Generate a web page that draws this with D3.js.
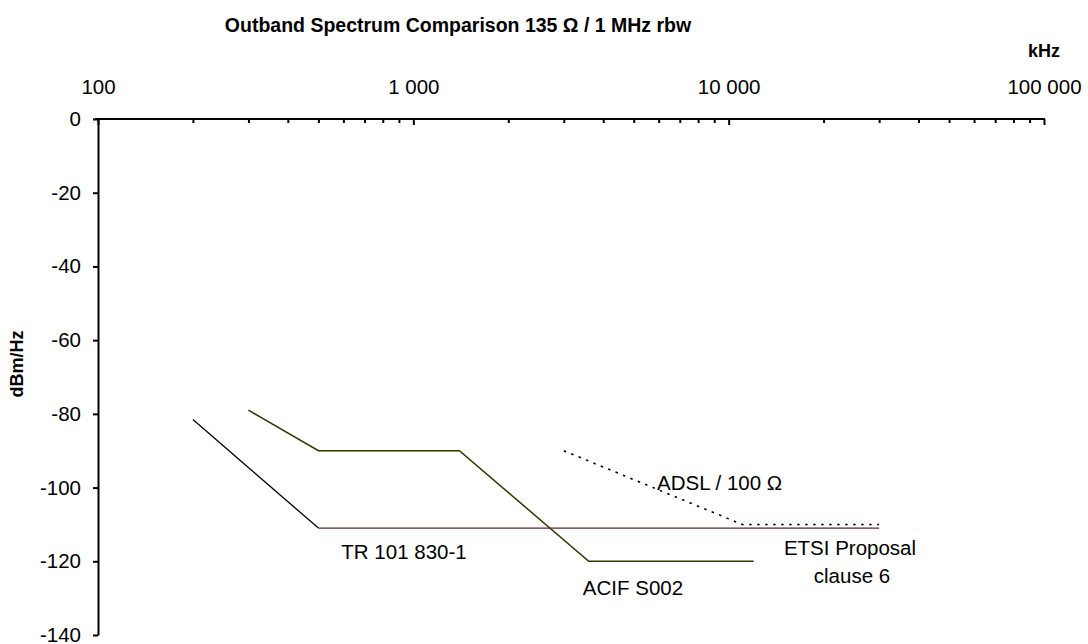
<!DOCTYPE html>
<html>
<head>
<meta charset="utf-8">
<script src="https://cdn.jsdelivr.net/npm/d3@7"></script>
<style>
  body { margin: 0; background: #fff; }
  svg { font-family: Arial, "Liberation Sans", sans-serif; }
</style>
</head>
<body>
<div id="chart"></div>
<script>
// Outband spectrum comparison

// x in kHz, y in dBm/Hz
const trPoints   = [[200, -81.5], [500, -111]];
const acifPoints = [[300, -79], [500, -90], [1400, -90], [3600, -120], [12000, -120]];
const etsiPoints = [[500, -111], [30000, -111]];
const adslPoints = [[3000, -90], [11040, -110], [30000, -110]];

const xMajorTicks = [100, 1000, 10000, 100000];
const xMajorLabels = ["100", "1 000", "10 000", "100 000"];
const yTicks = [0, -20, -40, -60, -80, -100, -120, -140];

const width = 1088;
const height = 644;

const svg = d3.select("#chart")
    .append("svg")
    .attr("width", width)
    .attr("height", height);

const x = d3.scaleLog().domain([100, 100000]).range([98, 1044]);
const y = d3.scaleLinear().domain([0, -140]).range([119, 635]);

// minor ticks 2..9 in each decade
const xMinorTicks = [];
[100, 1000, 10000].forEach(dec => {
    for (let k = 2; k <= 9; k++) xMinorTicks.push(dec * k);
});

// top axis (ticks point down into the plot)
svg.append("g")
    .attr("transform", `translate(0, ${y(0)})`)
    .call(d3.axisTop(x).tickValues(xMinorTicks).tickSize(-4).tickSizeOuter(0).tickFormat(""))
    .call(g => g.select(".domain").remove())
    .call(g => g.selectAll("line").attr("stroke", "#000").attr("stroke-width", 2));

svg.append("g")
    .attr("transform", `translate(0, ${y(0)})`)
    .call(d3.axisTop(x).tickValues(xMajorTicks).tickSize(-6).tickSizeOuter(0).tickPadding(25)
        .tickFormat((d, i) => xMajorLabels[i]))
    .call(g => g.select(".domain").attr("stroke", "#000").attr("stroke-width", 2)
        .attr("d", `M${x(100) - 3},0H${x(100000) + 1}`))
    .call(g => g.selectAll("line").attr("stroke", "#000").attr("stroke-width", 2))
    .call(g => g.selectAll("text").attr("font-size", "20.5px").attr("fill", "#000")
        .attr("font-family", "Arial, 'Liberation Sans', sans-serif"));

// left axis
svg.append("g")
    .attr("transform", `translate(${x(100)}, 0)`)
    .call(d3.axisLeft(y).tickValues(yTicks).tickSize(5).tickSizeOuter(0).tickPadding(12)
        .tickFormat(d => String(d)))
    .call(g => g.select(".domain").attr("stroke", "#000").attr("stroke-width", 2))
    .call(g => g.selectAll("line").attr("stroke", "#000").attr("stroke-width", 2))
    .call(g => g.selectAll("text").attr("font-size", "20.5px").attr("fill", "#000")
        .attr("font-family", "Arial, 'Liberation Sans', sans-serif"));

// series lines
const line = d3.line().x(d => x(d[0])).y(d => y(d[1]));

svg.append("path").datum(trPoints)
    .attr("d", line).attr("fill", "none")
    .attr("stroke", "#000").attr("stroke-width", 1.3);

svg.append("path").datum(acifPoints)
    .attr("d", line).attr("fill", "none")
    .attr("stroke", "#333300").attr("stroke-width", 1.5);

svg.append("path").datum(etsiPoints)
    .attr("d", line).attr("fill", "none")
    .attr("stroke", "#5a2a2a").attr("stroke-width", 1.4);

svg.append("path").datum(adslPoints)
    .attr("d", line).attr("fill", "none")
    .attr("stroke", "#000").attr("stroke-width", 1.6)
    .attr("stroke-dasharray", "2.5,5.5");

// titles
svg.append("text")
    .attr("x", 458).attr("y", 32)
    .attr("text-anchor", "middle")
    .attr("font-size", "19.5px").attr("font-weight", "bold")
    .text("Outband Spectrum Comparison 135 Ω / 1 MHz rbw");

svg.append("text")
    .attr("x", 1044).attr("y", 57)
    .attr("text-anchor", "middle")
    .attr("font-size", "18px").attr("font-weight", "bold")
    .text("kHz");

svg.append("text")
    .attr("transform", "translate(23, 364) rotate(-90)")
    .attr("text-anchor", "middle")
    .attr("font-size", "18px").attr("font-weight", "bold")
    .text("dBm/Hz");

// series labels
const labels = [
    { text: "ADSL / 100 Ω", x: 657, y: 490, anchor: "start" },
    { text: "TR 101 830-1", x: 404, y: 559, anchor: "middle" },
    { text: "ACIF S002", x: 633, y: 595, anchor: "middle" },
    { text: "ETSI Proposal", x: 850, y: 555, anchor: "middle" },
    { text: "clause 6", x: 852, y: 583, anchor: "middle" }
];

labels.forEach(l => {
    svg.append("text")
        .attr("x", l.x).attr("y", l.y)
        .attr("text-anchor", l.anchor)
        .attr("font-size", "20.5px")
        .attr("fill", "#000")
        .text(l.text);
});
</script>
</body>
</html>
